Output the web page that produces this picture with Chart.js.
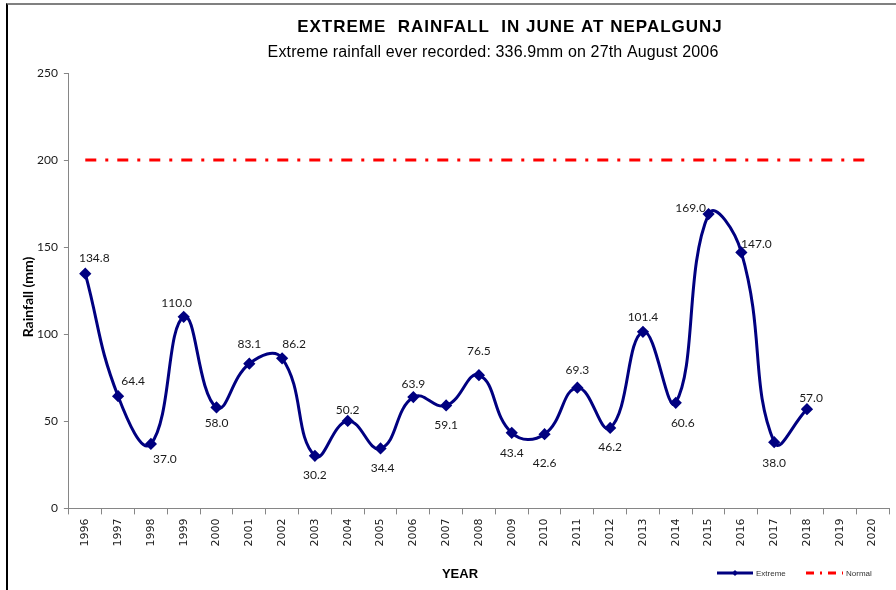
<!DOCTYPE html>
<html>
<head>
<meta charset="utf-8">
<script src="https://cdn.jsdelivr.net/npm/chart.js@4/dist/chart.umd.min.js"></script>
<style>
  html, body { margin: 0; padding: 0; background: #fff; overflow: hidden; }
  #wrap { position: relative; width: 896px; height: 590px; }
  #frame { position: absolute; left: 6px; top: 3px; width: 900px; height: 600px;
           border-left: 2px solid #000; border-top: 2px solid #808080; pointer-events: none; }
  canvas { position: absolute; left: 0; top: 0; }
</style>
</head>
<body>
<div id="wrap">
  <canvas id="rainChart" width="896" height="590"></canvas>
  <div id="frame"></div>
</div>
<script>
// data
const years = ['1996', '1997', '1998', '1999', '2000', '2001', '2002', '2003', '2004', '2005',
    '2006', '2007', '2008', '2009', '2010', '2011', '2012', '2013', '2014', '2015',
    '2016', '2017', '2018', '2019', '2020'];
const extreme = [134.8, 64.4, 37.0, 110.0, 58.0, 83.1, 86.2, 30.2, 50.2, 34.4,
    63.9, 59.1, 76.5, 43.4, 42.6, 69.3, 46.2, 101.4, 60.6, 169.0,
    147.0, 38.0, 57.0, null, null];
const normal = [200, 200, 200, 200, 200, 200, 200, 200, 200, 200,
    200, 200, 200, 200, 200, 200, 200, 200, 200, 200,
    200, 200, 200, 200, 200];
const yTicks = [0, 50, 100, 150, 200, 250];

const titleText = 'EXTREME  RAINFALL  IN JUNE AT NEPALGUNJ';
const subtitleText = 'Extreme rainfall ever recorded: 336.9mm on 27th August 2006';
const yTitleText = 'Rainfall (mm)';
const xTitleText = 'YEAR';

// where each value label sits relative to its point (px)
const labelOffsets = [
    [9, -16], [15, -15], [14, 15], [-7, -14], [0, 16], [0, -20], [12, -14], [0, 19], [0, -11], [2, 20],
    [0, -13], [0, 20], [0, -24], [0, 20], [0, 29], [0, -18], [0, 19], [0, -15], [7, 20], [-18, -6],
    [15, -8], [0, 21], [4, -11], [0, 0], [0, 0]
];

const NAVY = '#000080';
const RED = '#ff0000';
const normalDash = [11, 9, 3, 9];

const headings = {
    id: 'headings',
    afterDraw(chart) {
        const ctx = chart.ctx;
        ctx.save();
        ctx.fillStyle = '#000';
        ctx.textAlign = 'center';
        ctx.textBaseline = 'middle';
        ctx.font = 'bold 17px "Liberation Sans", Arial, sans-serif';
        ctx.letterSpacing = '1px';
        ctx.fillText(titleText, 510, 27);
        ctx.font = '16px "Liberation Sans", Arial, sans-serif';
        ctx.letterSpacing = '0.15px';
        ctx.fillText(subtitleText, 493, 53);
        ctx.letterSpacing = '0px';
        // x axis title sits left of the plot centre in the original
        ctx.font = 'bold 13px "Liberation Sans", Arial, sans-serif';
        ctx.fillText(xTitleText, 460, 574);
        // y axis title
        ctx.font = 'bold 14px Lato, "Liberation Sans", sans-serif';
        ctx.translate(28, 297);
        ctx.rotate(-Math.PI / 2);
        ctx.fillText(yTitleText, 0, 0);
        ctx.restore();
    }
};

const valueLabels = {
    id: 'valueLabels',
    afterDatasetsDraw(chart) {
        const ctx = chart.ctx;
        const meta = chart.getDatasetMeta(0);
        ctx.save();
        ctx.font = '12px Lato, "Liberation Sans", sans-serif';
        ctx.fillStyle = '#1a1a1a';
        ctx.textAlign = 'center';
        ctx.textBaseline = 'middle';
        meta.data.forEach(function(pt, i) {
            const v = extreme[i];
            if (v === null) return;
            ctx.fillText(v.toFixed(1), pt.x + labelOffsets[i][0], pt.y + labelOffsets[i][1]);
        });
        ctx.restore();
    }
};

const sideLegend = {
    id: 'sideLegend',
    afterDraw(chart) {
        const ctx = chart.ctx;
        const y = 573;
        ctx.save();
        ctx.font = '8px "Liberation Sans", Arial, sans-serif';
        ctx.textBaseline = 'middle';
        // Extreme
        ctx.strokeStyle = NAVY;
        ctx.lineWidth = 3;
        ctx.beginPath();
        ctx.moveTo(717, y);
        ctx.lineTo(753, y);
        ctx.stroke();
        ctx.fillStyle = NAVY;
        ctx.beginPath();
        ctx.moveTo(735, y - 3); ctx.lineTo(738, y); ctx.lineTo(735, y + 3); ctx.lineTo(732, y);
        ctx.closePath();
        ctx.fill();
        ctx.fillStyle = '#333';
        ctx.fillText(chart.data.datasets[0].label, 756, y + 1);
        // Normal
        ctx.strokeStyle = RED;
        ctx.setLineDash([8, 6, 2, 6]);
        ctx.beginPath();
        ctx.moveTo(806, y);
        ctx.lineTo(843, y);
        ctx.stroke();
        ctx.setLineDash([]);
        ctx.fillText(chart.data.datasets[1].label, 846, y + 1);
        ctx.restore();
    }
};

document.addEventListener('DOMContentLoaded', function() {
    const ctx = document.getElementById('rainChart').getContext('2d');
    new Chart(ctx, {
        type: 'line',
        data: {
            labels: years,
            datasets: [{
                label: 'Extreme',
                data: extreme,
                borderColor: NAVY,
                backgroundColor: NAVY,
                borderWidth: 3,
                tension: 0.45,
                pointStyle: 'rectRot',
                pointRadius: 4,
                pointHoverRadius: 4,
                spanGaps: false
            }, {
                label: 'Normal',
                data: normal,
                borderColor: RED,
                backgroundColor: RED,
                borderWidth: 3,
                borderDash: normalDash,
                borderCapStyle: 'butt',
                pointRadius: 0,
                tension: 0
            }]
        },
        options: {
            responsive: false,
            animation: false,
            layout: {
                padding: { left: 31, right: 6, top: 73, bottom: 3 }
            },
            plugins: {
                legend: { display: false },
                tooltip: { enabled: false }
            },
            scales: {
                x: {
                    offset: true,
                    grid: {
                        display: true,
                        offset: true,
                        drawOnChartArea: false,
                        tickLength: 6,
                        color: '#868686'
                    },
                    border: { color: '#868686' },
                    ticks: {
                        minRotation: 90,
                        maxRotation: 90,
                        color: '#1a1a1a',
                        padding: 4,
                        font: { family: '"DejaVu Sans", sans-serif', size: 11 }
                    },
                    // kept only to reserve the space; the text itself is drawn by the headings plugin
                    title: {
                        display: true,
                        text: xTitleText,
                        color: 'rgba(0,0,0,0)',
                        font: { family: '"Liberation Sans", Arial, sans-serif', size: 13, weight: 'bold' },
                        padding: { top: 17 }
                    }
                },
                y: {
                    min: 0,
                    max: 250,
                    afterBuildTicks: function(axis) {
                        axis.ticks = yTicks.map(function(v) { return { value: v }; });
                    },
                    grid: {
                        display: true,
                        drawOnChartArea: false,
                        tickLength: 5,
                        color: '#868686'
                    },
                    border: { color: '#868686' },
                    ticks: {
                        color: '#1a1a1a',
                        padding: 6,
                        font: { family: 'Lato, "Liberation Sans", sans-serif', size: 12 }
                    },
                    title: { display: false }
                }
            }
        },
        plugins: [valueLabels, sideLegend, headings]
    });
});
</script>
</body>
</html>
